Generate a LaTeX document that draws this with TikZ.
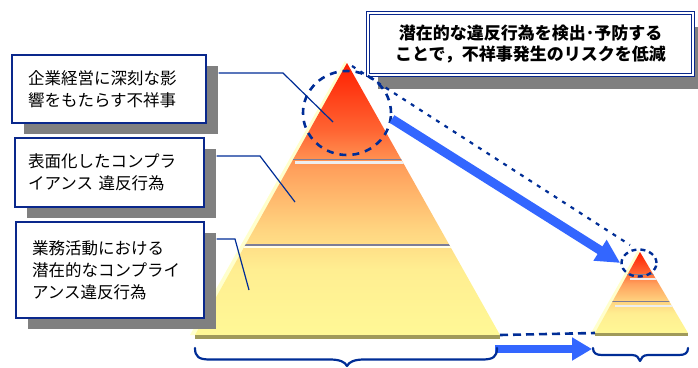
\documentclass[tikz,border=0pt]{standalone}
\usepackage{fontspec}
\newfontfamily\jp{Noto Sans CJK JP}
\usetikzlibrary{arrows.meta,shapes.geometric,calc}
\definecolor{dblue}{RGB}{0,45,150}
\definecolor{bxblue}{RGB}{10,40,140}
\definecolor{bblue}{RGB}{51,102,255}
\definecolor{shgray}{RGB}{128,128,128}
\definecolor{olivebase}{RGB}{160,154,90}
\definecolor{paleY}{RGB}{255,255,205}
\definecolor{divgray}{RGB}{125,125,150}
\definecolor{divwhite}{RGB}{238,238,238}
\definecolor{pyA}{RGB}{255,248,150}
\definecolor{pyB}{RGB}{255,238,145}
\definecolor{pyC}{RGB}{255,212,128}
\definecolor{pyD}{RGB}{255,160,92}
\definecolor{pyE}{RGB}{255,100,50}
\definecolor{pyF}{RGB}{255,30,0}
\pgfdeclareverticalshading{pyr}{100bp}{color(0bp)=(pyA); color(25bp)=(pyA); color(37bp)=(pyB); color(44.5bp)=(pyC); color(55.5bp)=(pyD); color(62.7bp)=(pyE); color(75bp)=(pyF); color(100bp)=(pyF)}
\begin{document}
\begin{tikzpicture}[x=1pt,y=-1pt,
  lbox/.style={draw=bxblue, line width=1.3pt, fill=white, inner ysep=0pt, align=left,
     font=\jp\fontsize{16.5}{22}\selectfont,
     preaction={fill=shgray, transform canvas={shift={(12pt,-11pt)}}}},
  tbox/.style={draw=bxblue, line width=1.1pt, double=white, double distance=1.6pt, fill=white,
     inner sep=0pt, align=center, font=\jp\bfseries\fontsize{17}{21}\selectfont,
     preaction={fill=shgray, transform canvas={shift={(10pt,-14pt)}}}},
  ring/.style={ellipse, draw=dblue, line width=2.6pt, dash pattern=on 7pt off 6pt, inner sep=0pt},
  conn/.style={draw=dblue, line width=1.2pt},
  dotline/.style={draw=dblue, line width=2.2pt, dash pattern=on 4pt off 6pt},
  baseline dash/.style={draw=dblue, line width=2.6pt, dash pattern=on 8pt off 5pt},
  fatarrow/.style={draw=bblue, line width=9pt, -{Triangle[length=24pt,width=23pt]}},
  brc/.style={draw=dblue, line width=2.2pt, line cap=round, line join=round}]
\useasboundingbox (0,0) rectangle (698,367);

% top box
\node[tbox, minimum width=325pt, minimum height=62pt] (tb) at (530.5,44)
  {潜在的な違反行為を検出･予防する\\ことで，不祥事発生のリスクを低減};

% big pyramid
\coordinate (A1) at (347,63);
\coordinate (L1) at (195,335);
\coordinate (R1) at (500,335);
\fill[paleY] (345,61) -- (190,335) -- (497,335) -- cycle;
\shade[shading=pyr] (A1) -- (L1) -- (R1) -- cycle;
\begin{scope}
  \clip (A1) -- (L1) -- (R1) -- cycle;
  \fill[divgray] (180,158.8) rectangle (520,160.3);
  \fill[divwhite] (295,161) rectangle (520,164.2);
  \fill[divgray] (180,244.3) rectangle (520,245.8);
  \fill[white!80!pyA] (180,246) rectangle (520,247.6);
\end{scope}
\fill[olivebase] (195,335) rectangle (500,339);

% small pyramid
\coordinate (A2) at (640,252);
\coordinate (L2) at (595,333);
\coordinate (R2) at (688,333);
\fill[paleY] (638,250) -- (591,333) -- (686,333) -- cycle;
\shade[shading=pyr] (A2) -- (L2) -- (R2) -- cycle;
\begin{scope}
  \clip (A2) -- (L2) -- (R2) -- cycle;
  \fill[divgray] (590,274) rectangle (700,275.3);
  \fill[divwhite] (630,277.5) rectangle (700,280);
  \fill[divgray] (590,300.5) rectangle (700,301.8);
  \fill[divwhite] (615,304.5) rectangle (700,307);
\end{scope}
\fill[olivebase] (595,333) rectangle (688,336);

% rings
\node[ring, minimum width=88pt, minimum height=84pt] (e1) at (347,113) {};
\node[ring, line width=2.4pt, dash pattern=on 5pt off 4pt, minimum width=35pt, minimum height=27pt] (e2) at (639,263) {};

% dotted link and big arrow
\coordinate (d1) at (352,66);
\coordinate (d2) at (630,245);
\draw[dotline] (d1) -- (d2);
\coordinate (s1) at (392,119);
\draw[fatarrow] (s1) -- (e2.west);

% connectors
\coordinate (k1) at (283,73);
\coordinate (t1) at (333,122);
\coordinate (k2) at (260,156);
\coordinate (t2) at (295,202);
\coordinate (k3) at (235,239);
\coordinate (t3) at (249,290);

% left boxes
\node[lbox, inner xsep=16pt, text width=162pt, minimum height=68pt] (b1) at (109,89)
  {企業経営に深刻な影\\響をもたらす不祥事};
\node[lbox, inner xsep=13pt, text width=163pt, minimum height=69pt] (b2) at (109.5,172.5)
  {表面化したコンプラ\\イアンス 違反行為};
\node[lbox, inner xsep=16pt, text width=156pt, minimum height=96pt] (b3) at (110,270)
  {業務活動における\\潜在的なコンプライ\\アンス違反行為};

\draw[conn] ([xshift=12pt]k1 -| b1.east) -- (k1) -- (t1);
\draw[conn] ([xshift=12pt]k2 -| b2.east) -- (k2) -- (t2);
\draw[conn] ([xshift=12pt]k3 -| b3.east) -- (k3) -- (t3);

% base dashed line and bottom arrow
\draw[baseline dash] (R1) -- (L2);
\coordinate (f1) at (495,349);
\coordinate (f2) at (592,349);
\draw[fatarrow, line width=8pt, -{Triangle[length=20pt,width=22pt]}] (f1) -- (f2);

% braces
\draw[brc] (195,348) .. controls (195,357) and (199,359.5) .. (210,359.5) -- (330,359.5)
  .. controls (340,359.5) and (345,362) .. (347,366) .. controls (349,362) and (354,359.5) .. (364,359.5)
  -- (482,359.5) .. controls (493,359.5) and (497,357) .. (497,348);
\draw[brc] (593,348) .. controls (593,353) and (596,355) .. (602,355) -- (632,355)
  .. controls (637,355) and (639,358) .. (640,361) .. controls (641,358) and (643,355) .. (648,355)
  -- (679,355) .. controls (685,355) and (688,353) .. (688,348);
\end{tikzpicture}
\end{document}
